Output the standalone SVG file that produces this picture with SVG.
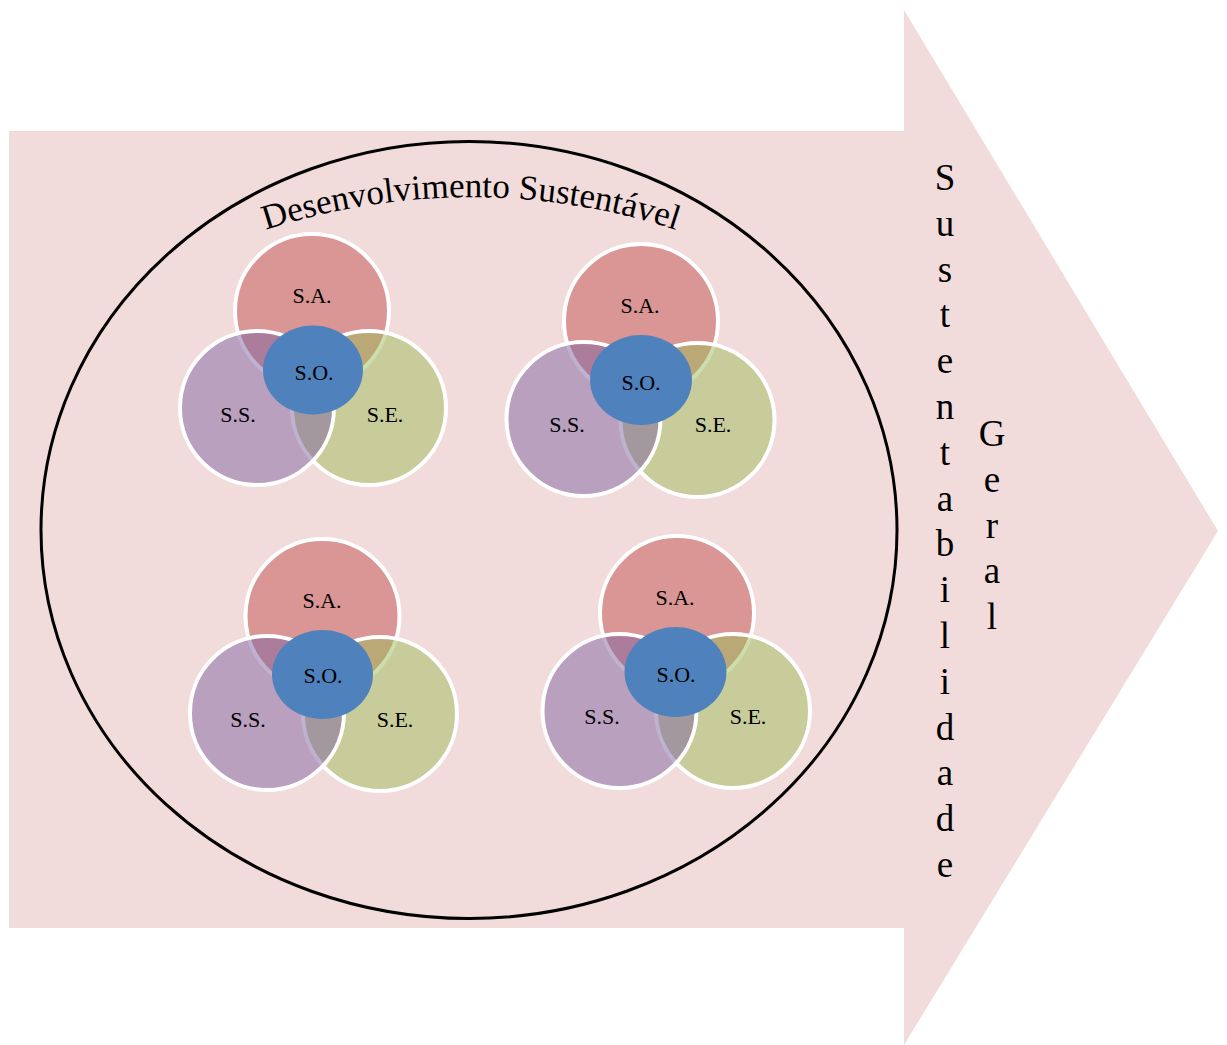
<svg xmlns="http://www.w3.org/2000/svg" xmlns:xlink="http://www.w3.org/1999/xlink" width="1227" height="1045" viewBox="0 0 1227 1045">
<style>
.sa{fill:rgba(192,80,77,0.5);stroke:#fff;stroke-width:4}
.se{fill:rgba(155,187,89,0.5);stroke:#fff;stroke-width:4}
.ss{fill:rgba(128,100,162,0.5);stroke:#fff;stroke-width:4}
.so{fill:#4F81BD}
.lbl{font-family:"Liberation Serif","Times New Roman",serif;font-size:22px;fill:#000;text-anchor:middle}
.vt{font-family:"Liberation Serif","Times New Roman",serif;font-size:37px;fill:#000;text-anchor:middle}
.title{font-family:"Liberation Serif","Times New Roman",serif;font-size:35px;fill:#000}
</style>
<defs>
<path id="arc" d="M -189 857 A 660 660 0 0 1 1131 857"/>
</defs>
<rect width="1227" height="1045" fill="#fff"/>
<g id="arrow">
<polygon points="9,131 904,131 904,10 1218,531 904,1045 904,928 9,928" fill="#F2DCDB"/>
</g>
<g id="dev-ellipse">
<ellipse cx="469" cy="530" rx="428" ry="388.5" fill="none" stroke="#000" stroke-width="3"/>
<text class="title"><textPath xlink:href="#arc" href="#arc" startOffset="50%" text-anchor="middle">Desenvolvimento Sustentável</textPath></text>
</g>
<g id="cluster1">
<g id="c1-sa"><circle class="sa" cx="312" cy="311" r="77"/><text class="lbl" x="312" y="303">S.A.</text></g>
<g id="c1-se"><circle class="se" cx="369" cy="408" r="77"/><text class="lbl" x="385" y="422">S.E.</text></g>
<g id="c1-ss"><circle class="ss" cx="257" cy="408" r="77"/><text class="lbl" x="238" y="422">S.S.</text></g>
<g id="c1-so"><ellipse class="so" cx="313" cy="370" rx="50" ry="44.5"/><text class="lbl" x="314" y="380">S.O.</text></g>
</g>
<g id="cluster2">
<g id="c2-sa"><circle class="sa" cx="641" cy="321" r="77"/><text class="lbl" x="640" y="313">S.A.</text></g>
<g id="c2-se"><circle class="se" cx="697.5" cy="420" r="77"/><text class="lbl" x="713" y="432">S.E.</text></g>
<g id="c2-ss"><circle class="ss" cx="583.5" cy="419" r="77"/><text class="lbl" x="567" y="432">S.S.</text></g>
<g id="c2-so"><ellipse class="so" cx="641" cy="380" rx="51" ry="45"/><text class="lbl" x="641" y="390">S.O.</text></g>
</g>
<g id="cluster3">
<g id="c3-sa"><circle class="sa" cx="322.5" cy="616" r="77"/><text class="lbl" x="322" y="608">S.A.</text></g>
<g id="c3-se"><circle class="se" cx="380" cy="714" r="77"/><text class="lbl" x="395" y="727">S.E.</text></g>
<g id="c3-ss"><circle class="ss" cx="267" cy="713" r="77"/><text class="lbl" x="248" y="727">S.S.</text></g>
<g id="c3-so"><ellipse class="so" cx="322.5" cy="674.5" rx="50.5" ry="44.5"/><text class="lbl" x="323" y="683">S.O.</text></g>
</g>
<g id="cluster4">
<g id="c4-sa"><circle class="sa" cx="677" cy="613" r="77"/><text class="lbl" x="675" y="605">S.A.</text></g>
<g id="c4-se"><circle class="se" cx="733" cy="711" r="77"/><text class="lbl" x="748" y="724">S.E.</text></g>
<g id="c4-ss"><circle class="ss" cx="619.5" cy="711" r="77"/><text class="lbl" x="602" y="724">S.S.</text></g>
<g id="c4-so"><ellipse class="so" cx="675.5" cy="672" rx="51" ry="45"/><text class="lbl" x="676" y="682">S.O.</text></g>
</g>
<g id="sustentabilidade">
<text class="vt" x="945" y="190">S</text>
<text class="vt" x="945" y="235.8">u</text>
<text class="vt" x="945" y="281.6">s</text>
<text class="vt" x="945" y="327.4">t</text>
<text class="vt" x="945" y="373.2">e</text>
<text class="vt" x="945" y="419">n</text>
<text class="vt" x="945" y="464.8">t</text>
<text class="vt" x="945" y="510.6">a</text>
<text class="vt" x="945" y="556.4">b</text>
<text class="vt" x="945" y="602.2">i</text>
<text class="vt" x="945" y="648">l</text>
<text class="vt" x="945" y="693.8">i</text>
<text class="vt" x="945" y="739.6">d</text>
<text class="vt" x="945" y="785.4">a</text>
<text class="vt" x="945" y="831.2">d</text>
<text class="vt" x="945" y="877">e</text>
</g>
<g id="geral">
<text class="vt" x="992" y="446">G</text>
<text class="vt" x="992" y="491.8">e</text>
<text class="vt" x="992" y="537.6">r</text>
<text class="vt" x="992" y="583.4">a</text>
<text class="vt" x="992" y="629.2">l</text>
</g>
<g id="connectors"/>
</svg>
